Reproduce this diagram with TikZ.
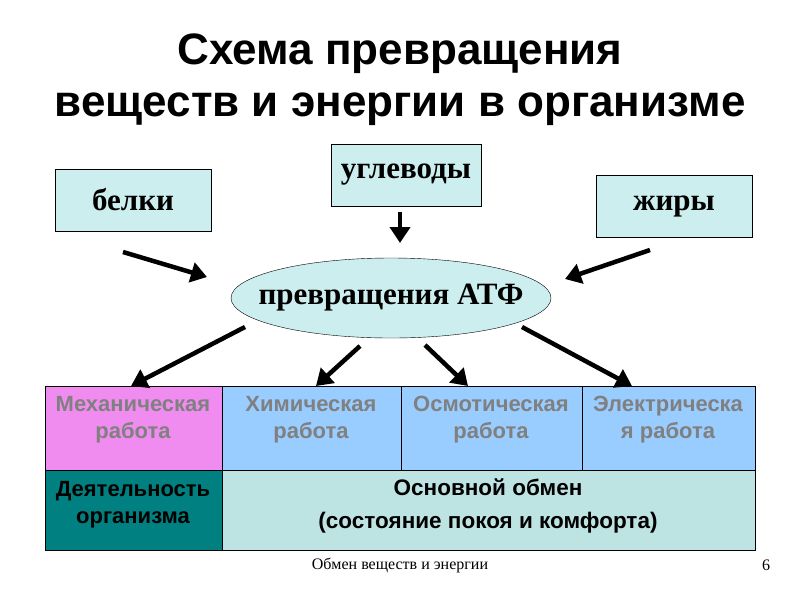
\documentclass[tikz,border=0pt]{standalone}
\usepackage{fontspec}
\setmainfont{Liberation Serif}
\setsansfont{Liberation Sans}
\usetikzlibrary{shapes.geometric,arrows.meta}
\definecolor{boxc}{HTML}{CCEEEE}
\definecolor{pinkc}{HTML}{F08CF0}
\definecolor{bluec}{HTML}{99CCFF}
\definecolor{tealc}{HTML}{008080}
\definecolor{lightc}{HTML}{BEE3E3}
\definecolor{greyt}{HTML}{808080}
\tikzset{
 src/.style={draw,fill=boxc,minimum height=62pt,font=\fontsize{31}{34}\selectfont\bfseries},
 arr/.style={line width=4.5pt,-{Triangle[length=16pt,width=20pt]}},
 cell/.style={draw,line width=1pt},
 ctext/.style={font=\sffamily\bfseries\fontsize{22}{27}\selectfont,align=center},
}
\begin{document}
\begin{tikzpicture}[x=1pt,y=-1pt]
\useasboundingbox[fill=white] (0,0) rectangle (800,600);
\node[font=\sffamily\bfseries\fontsize{44}{52}\selectfont,align=center] (t) at (400,80) {Схема превращения\\веществ и энергии в организме};
\node[src,minimum width=156pt] (b) at (133,200) {белки};
\node[src,minimum width=150pt] (u) at (406,175) {углеводы};
\node[src,minimum width=156pt] (z) at (674,206) {жиры};
\draw[fill=boxc] (391,298) ellipse [x radius=160, y radius=40];
\node[font=\fontsize{31}{34}\selectfont\bfseries] (e) at (391,298) {превращения АТФ};
\coordinate (b1) at (123,252); \coordinate (b2) at (207,277);
\coordinate (u1) at (400,212); \coordinate (u2) at (400,243);
\coordinate (z1) at (650,250); \coordinate (z2) at (565,279);
\draw[arr] (b1) -- (b2);
\draw[arr] (u1) -- (u2);
\draw[arr] (z1) -- (z2);
\coordinate (m1) at (245,327); \coordinate (m2) at (131,386);
\coordinate (h1) at (360,346); \coordinate (h2) at (316,386);
\coordinate (o1) at (425,345); \coordinate (o2) at (468,386);
\coordinate (l1) at (522,327); \coordinate (l2) at (632,386);
\draw[cell,fill=pinkc] (45,386) rectangle (222,470);
\draw[cell,fill=bluec] (222,386) rectangle (401,470);
\draw[cell,fill=bluec] (401,386) rectangle (582,470);
\draw[cell,fill=bluec] (582,386) rectangle (755,470);
\draw[cell,fill=tealc] (45,470) rectangle (222,550);
\draw[cell,fill=lightc] (222,470) rectangle (755,550);
\draw[arr] (m1) -- (m2);
\draw[arr] (h1) -- (h2);
\draw[arr] (o1) -- (o2);
\draw[arr] (l1) -- (l2);
\node[ctext,text=greyt] (c1) at (133,420) {Механическая\\работа};
\node[ctext,text=greyt] (c2) at (311,420) {Химическая\\работа};
\node[ctext,text=greyt] (c3) at (491,420) {Осмотическая\\работа};
\node[ctext,text=greyt] (c4) at (668,420) {Электрическа\\я работа};
\node[ctext] (c5) at (133,505) {Деятельность\\организма};
\node[ctext,font=\sffamily\bfseries\fontsize{22.5}{33}\selectfont] (c6) at (488,506) {Основной обмен\\(состояние покоя и комфорта)};
\node[font=\fontsize{16}{18}\selectfont] (f) at (400,565) {Обмен веществ и энергии};
\node[font=\fontsize{16}{18}\selectfont] (n) at (766,565) {6};
\end{tikzpicture}
\end{document}
